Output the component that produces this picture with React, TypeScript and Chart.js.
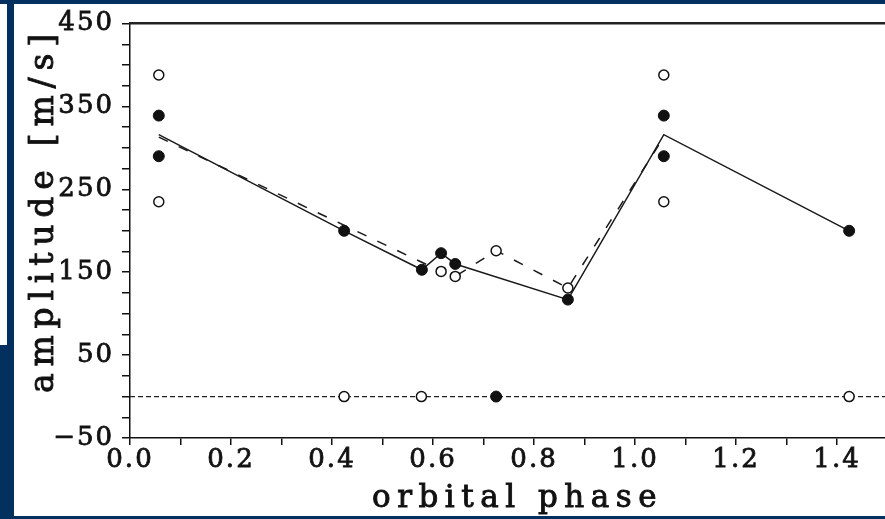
import React, { useEffect, useRef } from "react";
import { Chart, registerables } from "chart.js";

Chart.register(...registerables);

// Measured amplitudes (filled symbols)
const filledPhase = [0.057, 0.057, 0.424, 0.578, 0.616, 0.644, 0.725, 0.867, 1.057, 1.057, 1.424];
const filledAmp = [339, 290, 200, 153, 173, 160, 0, 117, 339, 290, 200];

// Measured amplitudes (open symbols)
const openPhase = [0.057, 0.057, 0.424, 0.577, 0.616, 0.644, 0.725, 0.867, 1.057, 1.057, 1.424];
const openAmp = [388, 235, 0, 0, 151, 145, 176, 131, 388, 235, 0];

// Mean curve through the filled points (solid)
const solidPhase = [0.057, 0.424, 0.578, 0.616, 0.644, 0.867, 1.057, 1.424];
const solidAmp = [316, 200, 153, 173, 160, 117, 316, 200];

// Mean curve through the open points (dashed)
const dashedPhase = [0.057, 0.616, 0.644, 0.725, 0.867, 1.057];
const dashedAmp = [313, 151, 145, 176, 131, 313];

// Axis ranges and labels
const X_MIN = 0;
const X_MAX = 1.495;
const Y_MIN = -50;
const Y_MAX = 450;
const xTickValues = [0, 0.2, 0.4, 0.6, 0.8, 1.0, 1.2, 1.4];
const xTickLabels = ["0.0", "0.2", "0.4", "0.6", "0.8", "1.0", "1.2", "1.4"];
const yTickValues = [-50, 50, 150, 250, 350, 450];
const yTickLabels = ["\u221250", "50", "150", "250", "350", "450"];

const X_TITLE = "orbital phase";
const Y_TITLE = "amplitude [m/s]";

const INK = "#111111";
const FONT = '"DejaVu Serif", "Liberation Serif", serif';

const pts = (xs: number[], ys: number[]) => xs.map((x, i) => ({ x, y: ys[i] }));

const titlesPlugin = {
  id: "axisTitles",
  beforeDraw(chart: any) {
    chart.ctx.letterSpacing = "2px";
  },
  afterDraw(chart: any) {
    const ctx = chart.ctx as CanvasRenderingContext2D;
    ctx.save();
    ctx.fillStyle = INK;
    ctx.strokeStyle = INK;
    ctx.lineWidth = 0.9;
    ctx.textAlign = "left";
    ctx.textBaseline = "alphabetic";
    ctx.font = `31px ${FONT}`;
    (ctx as any).letterSpacing = "6.5px";
    ctx.fillText(X_TITLE, 372, 507);
    ctx.strokeText(X_TITLE, 372, 507);
    ctx.font = `33px ${FONT}`;
    (ctx as any).letterSpacing = "6.8px";
    ctx.translate(53, 393);
    ctx.rotate(-Math.PI / 2);
    ctx.fillText(Y_TITLE, 0, 0);
    ctx.strokeText(Y_TITLE, 0, 0);
    ctx.restore();
    (ctx as any).letterSpacing = "0px";
  },
};

export default function App() {
  const canvasRef = useRef<HTMLCanvasElement | null>(null);

  useEffect(() => {
    const canvas = canvasRef.current;
    if (!canvas) return;

    const tickFont = { family: FONT, size: 26, lineHeight: 1.2 };

    const chart = new Chart(canvas, {
      type: "scatter",
      data: {
        datasets: [
          {
            label: "filled",
            data: pts(filledPhase, filledAmp),
            showLine: false,
            pointRadius: 5.5,
            pointBackgroundColor: INK,
            pointBorderColor: INK,
            pointBorderWidth: 1,
            order: 0,
          },
          {
            label: "open",
            data: pts(openPhase, openAmp),
            showLine: false,
            pointRadius: 5,
            pointBackgroundColor: "#ffffff",
            pointBorderColor: INK,
            pointBorderWidth: 1.5,
            order: 1,
          },
          {
            label: "solid",
            data: pts(solidPhase, solidAmp),
            showLine: true,
            borderColor: "#1a1a1a",
            borderWidth: 1.5,
            pointRadius: 0,
            tension: 0,
            order: 2,
          },
          {
            label: "dashed",
            data: pts(dashedPhase, dashedAmp),
            showLine: true,
            borderColor: "#1a1a1a",
            borderWidth: 1.5,
            borderDash: [10, 12],
            pointRadius: 0,
            tension: 0,
            order: 3,
          },
          {
            label: "zero",
            data: pts([X_MIN, X_MAX], [0, 0]),
            showLine: true,
            borderColor: "#222222",
            borderWidth: 1.2,
            borderDash: [5, 3],
            pointRadius: 0,
            order: 4,
          },
        ],
      },
      options: {
        responsive: false,
        animation: false,
        devicePixelRatio: 1,
        layout: { padding: { left: 0, top: 18, right: 0, bottom: 0 }, autoPadding: false },
        plugins: {
          legend: { display: false },
          tooltip: { enabled: false },
        },
        scales: {
          x: {
            type: "linear",
            position: "bottom",
            min: X_MIN,
            max: X_MAX,
            afterFit: (s: any) => {
              s.height = 81;
            },
            ticks: {
              stepSize: 0.1,
              includeBounds: false,
              autoSkip: false,
              maxRotation: 0,
              minRotation: 0,
              padding: 0,
              color: INK,
              textStrokeColor: INK,
              textStrokeWidth: 0.8,
              font: tickFont,
              callback: (v: any) => {
                const i = xTickValues.findIndex((t) => Math.abs(t - Number(v)) < 1e-6);
                return i >= 0 ? xTickLabels[i] : "";
              },
            },
            grid: { drawOnChartArea: false, drawTicks: true, tickLength: 7, color: INK, lineWidth: 1.5 },
            border: { color: INK, width: 1.5 },
          },
          y: {
            type: "linear",
            position: "left",
            min: Y_MIN,
            max: Y_MAX,
            afterFit: (s: any) => {
              s.width = 130;
            },
            ticks: {
              stepSize: 25,
              autoSkip: false,
              padding: 8,
              color: INK,
              textStrokeColor: INK,
              textStrokeWidth: 0.8,
              font: tickFont,
              callback: (v: any) => {
                const i = yTickValues.indexOf(Math.round(Number(v)));
                return i >= 0 ? yTickLabels[i] : "";
              },
            },
            grid: { drawOnChartArea: false, drawTicks: true, tickLength: 8, color: INK, lineWidth: 1.5 },
            border: { color: INK, width: 1.5 },
          },
          frameTop: {
            type: "linear",
            position: "top",
            afterFit: (s: any) => {
              s.height = 0;
            },
            ticks: { display: false },
            grid: { drawOnChartArea: false, drawTicks: false },
            border: { color: "#222222", width: 2.5 },
          },
        },
      },
      plugins: [titlesPlugin],
    } as any);

    return () => chart.destroy();
  }, []);

  return (
    <div
      style={{
        position: "fixed",
        left: 0,
        top: 0,
        width: 885,
        height: 519,
        background: "#04305f",
        overflow: "hidden",
      }}
    >
      <div style={{ position: "absolute", left: 14, top: 4, width: 871, height: 512, background: "#ffffff" }} />
      <div style={{ position: "absolute", left: 0, top: 4, width: 7, height: 341, background: "#ffffff" }} />
      <canvas
        ref={canvasRef}
        width={885}
        height={519}
        style={{ position: "absolute", left: 0, top: 0, width: 885, height: 519 }}
      />
    </div>
  );
}
